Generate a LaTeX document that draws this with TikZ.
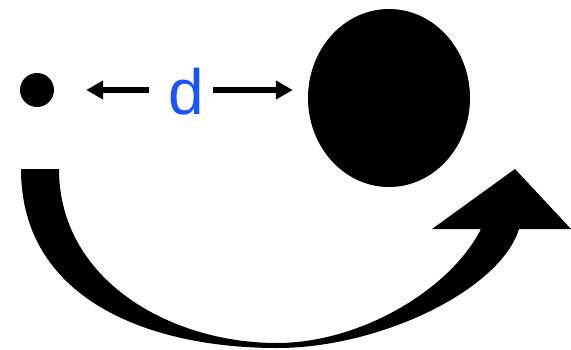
\documentclass[tikz,border=0pt]{standalone}
\usepackage{fontspec}
\setmainfont{Liberation Sans}
\usetikzlibrary{shapes.geometric,arrows.meta}
\definecolor{dblue}{RGB}{25,85,250}
\begin{document}
\begin{tikzpicture}[x=1pt,y=-1pt,
  blob/.style={fill=black,draw=none,inner sep=0pt},
  arr/.style={line width=5.5pt,-{Triangle[length=17pt,width=18pt]}}]
\useasboundingbox (0,0) rectangle (571,349);
\node[blob,circle,minimum size=34pt] (dot) at (37,90) {};
\node[blob,ellipse,minimum width=162pt,minimum height=178pt] (big) at (389,98) {};
\node[anchor=base,inner sep=0pt,text=dblue,font=\fontsize{64}{64}\selectfont] (d) at (186,114) {d};
\draw[arr,shorten <=19pt,shorten >=32pt] (d.west |- dot.center) -- (dot.east);
\draw[arr,shorten <=9pt,shorten >=15pt] (d.east |- dot.center) -- (big.west |- dot.center);
\fill (21,169) -- (59,169)
  .. controls (59,280) and (170,343) .. (277,343)
  .. controls (360,343) and (450,290) .. (481,229)
  -- (432,229) -- (515,169) -- (571,229) -- (519,229)
  .. controls (500,290) and (380,348) .. (277,348)
  .. controls (150,348) and (21,300) .. (21,169) -- cycle;
\end{tikzpicture}
\end{document}
